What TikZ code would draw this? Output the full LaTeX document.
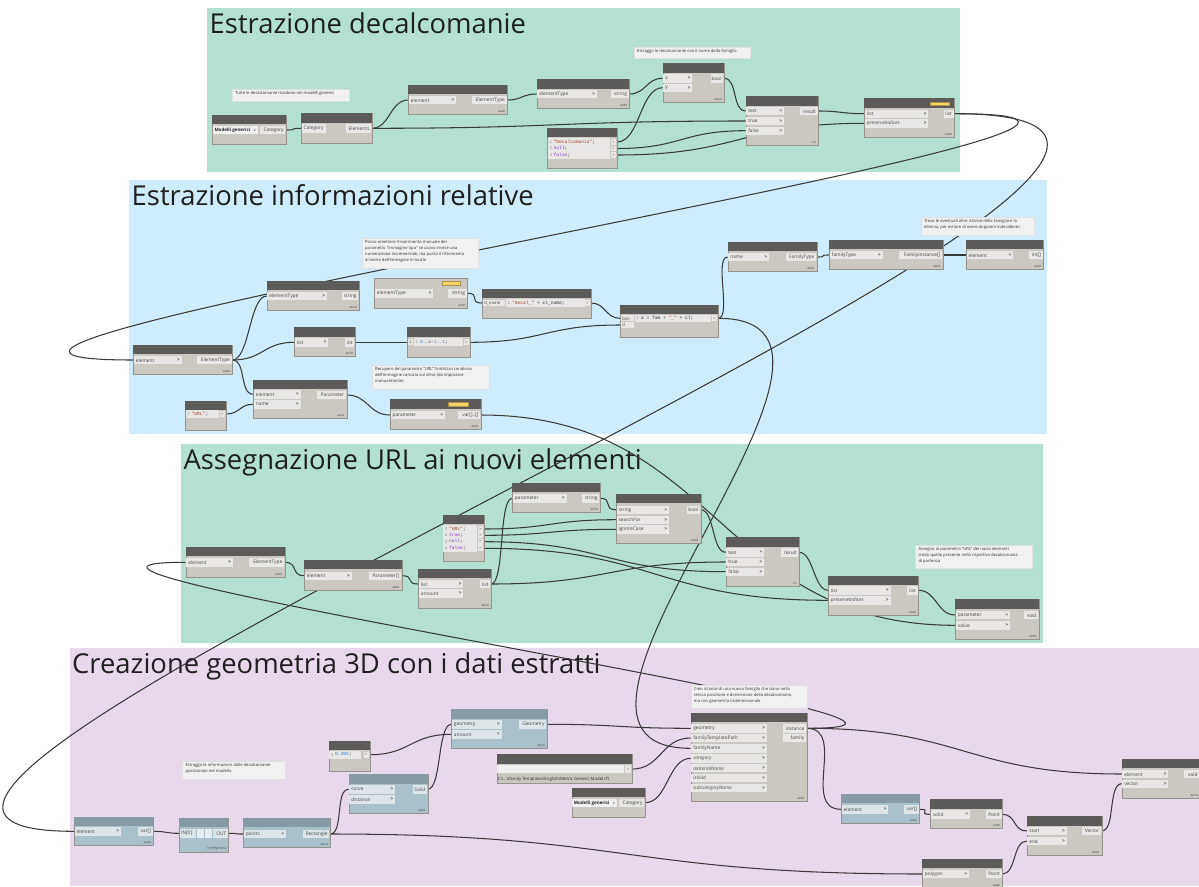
\documentclass[tikz,border=0pt]{standalone}
\usepackage{fontspec}
\setmainfont{Open Sans}
\newfontfamily\codefont{Liberation Mono}
\newfontfamily\symfont{DejaVu Sans}
\usetikzlibrary{calc}
\pgfdeclarelayer{groups}
\pgfdeclarelayer{wires}
\pgfsetlayers{groups,wires,main}

\definecolor{grpgreen}{RGB}{180,224,210}
\definecolor{grpblue}{RGB}{207,236,252}
\definecolor{grppurple}{RGB}{232,216,236}
\definecolor{nhead}{RGB}{93,91,89}
\definecolor{nbody}{RGB}{203,199,193}
\definecolor{nrow}{RGB}{232,231,229}
\definecolor{bhead}{RGB}{135,155,165}
\definecolor{bbody}{RGB}{170,192,202}
\definecolor{brow}{RGB}{221,229,233}
\definecolor{wirec}{RGB}{58,58,58}
\definecolor{notebg}{RGB}{241,241,241}
\definecolor{badge}{RGB}{247,212,106}
\definecolor{cstr}{RGB}{163,72,40}
\definecolor{ckey}{RGB}{140,60,200}
\definecolor{cnum}{RGB}{50,130,220}
\definecolor{nborder}{RGB}{150,146,140}

\tikzset{
  gtitle/.style={anchor=base west,inner sep=0pt,font=\fontsize{27.4}{28}\selectfont,text=black!88},
  nbox/.style={draw=nborder,line width=0.4pt,fill=nbody,anchor=north west,inner sep=0pt,outer sep=0pt},
  plabel/.style={inner sep=0pt,font=\fontsize{4.8}{5}\selectfont,text=black!72},
  lacetext/.style={inner sep=0pt,font=\fontsize{3.4}{4}\selectfont,text=black!70},
  codetext/.style={inner sep=0pt,anchor=west,font=\codefont\fontsize{4.6}{5}\selectfont,text=black!80},
  lnum/.style={inner sep=0pt,anchor=west,font=\codefont\fontsize{4.2}{5}\selectfont,text=black!45},
  notebox/.style={fill=notebg,draw=black!12,line width=0.4pt,anchor=north west,inner sep=0pt,outer sep=0pt},
  notetext/.style={inner sep=0pt,anchor=north west,align=left,font=\fontsize{4.15}{5.8}\selectfont,text=black!80},
  wire/.style={draw=wirec,line width=1.05pt},
  badgebox/.style={fill=badge,draw=badge!70!black,line width=0.3pt},
  dropbox/.style={fill=white!94!black},
}

% node body and header
\newcommand\dnode[6][]{\node[nbox,#1,minimum width={#5-#3},minimum height={#6-#4}] (#2) at (#3,#4) {};}
\newcommand\dhead[3][nhead]{\fill[#1] (#2.north west) rectangle ($(#2.north east)+(0,#3)$);}
% input port with chevron
\newcommand\inp[6][nrow]{%
  \coordinate (#2-#3) at ($(#2.north west)+(0,#4)$);
  \fill[#1] ($(#2-#3)+(0.7,-4.2)$) rectangle ($(#2-#3)+(#5,4.2)$);
  \node[plabel,anchor=west] at ($(#2-#3)+(2.4,0.2)$) {#6};
  \node[plabel,anchor=east,font=\fontsize{4.6}{5}\bfseries] at ($(#2-#3)+(#5-1.6,0.2)$) {>};}
% input port without chevron
\newcommand\inpn[6][nrow]{%
  \coordinate (#2-#3) at ($(#2.north west)+(0,#4)$);
  \fill[#1] ($(#2-#3)+(0.7,-4.2)$) rectangle ($(#2-#3)+(#5,4.2)$);
  \node[plabel,anchor=west] at ($(#2-#3)+(2.4,0.2)$) {#6};}
% output port
\newcommand\outp[6][nrow]{%
  \coordinate (#2-#3) at ($(#2.north east)+(0,#4)$);
  \fill[#1] ($(#2-#3)+(-#5,-4.2)$) rectangle ($(#2-#3)+(-0.7,4.2)$);
  \node[plabel,anchor=east] at ($(#2-#3)+(-2.2,0.2)$) {#6};}
% lacing mark
\newcommand\lace[2][auto]{\node[lacetext,anchor=south east] at ($(#2.south east)+(-2,-1.2)$) {#1};}
% code block output
\newcommand\cbo[3]{%
  \coordinate (#1-#2) at ($(#1.north east)+(0,#3)$);
  \fill[nrow] ($(#1-#2)+(-6.2,-2.9)$) rectangle ($(#1-#2)+(-0.8,2.9)$);
  \node[plabel,font=\fontsize{3.8}{4}\selectfont] at ($(#1-#2)+(-3.5,0.1)$) {>};}
% code block input
\newcommand\cbi[5]{% node, id, dy, width, label
  \coordinate (#1-#2) at ($(#1.north west)+(0,#3)$);
  \fill[nrow] ($(#1-#2)+(0.7,-3)$) rectangle ($(#1-#2)+(#4,3)$);
  \node[plabel,anchor=west,font=\fontsize{4.2}{5}\selectfont] at ($(#1-#2)+(1.8,0.2)$) {#5};}
\newcommand\badgeat[4]{\fill[badgebox] (#1,#2) rectangle (#3,#4);}
% comment note
\newcommand\note[6]{%
  \node[notebox,minimum width={#4-#2},minimum height={#5-#3}] (#1) at (#2,#3) {};
  \node[notetext] at ($(#1.north west)+(3,2.4)$) {#6};}
% connector between two ports
\newcommand\wire[3][]{%
  \ifx&#1&%
    \draw[wire] let \p1=(#2), \p2=(#3), \n1={max(14,abs(\x2-\x1)*0.5)} in
      (\p1) .. controls +(\n1,0) and +(-\n1,0) .. (\p2);
  \else
    \draw[wire] (#2) .. controls +(#1,0) and +(-#1,0) .. (#3);
  \fi}

\begin{document}
\begin{tikzpicture}[x=1pt,y=-1pt]
\useasboundingbox (0,0) rectangle (1199,886);

\begin{pgfonlayer}{groups}
  \fill[white] (0,0) rectangle (1199,886);
  \fill[grpgreen] (207,8) rectangle (960,171.7);
  \fill[grpblue] (129,180) rectangle (1047,434);
  \fill[grpgreen] (181,444) rectangle (1043,642.5);
  \fill[grppurple] (69.5,648.3) rectangle (1199,886);
  \node[gtitle] (T1) at (209.5,33.3) {Estrazione decalcomanie};
  \node[gtitle] (T2) at (131.5,205.3) {Estrazione informazioni relative};
  \node[gtitle] (T3) at (183.3,469.3) {Assegnazione URL ai nuovi elementi};
  \node[gtitle] (T4) at (72,673) {Creazione geometria 3D con i dati estratti};
\end{pgfonlayer}

% ================= Estrazione decalcomanie =================
\dnode{A1}{212}{115}{286}{144}\dhead{A1}{9}
\fill[dropbox] (213,126) rectangle (257.5,134.2);
\node[plabel,anchor=west,font=\fontsize{4.5}{5}\bfseries,text=black!85] at (214.3,130.3) {Modelli generici};
\node[plabel,anchor=east,font=\symfont\fontsize{3.8}{5}\selectfont] at (256.3,130.3) {∨};
\outp{A1}{o1}{15}{26}{Category}

\dnode{A2}{301}{112.7}{371.7}{142.7}\dhead{A2}{10}
\inpn{A2}{i1}{15.6}{25}{Category}
\outp{A2}{o1}{15.6}{26}{Elements}

\dnode{A3}{408.3}{84.7}{507.3}{114}\dhead{A3}{9.6}
\inp{A3}{i1}{15.3}{47.7}{element}
\outp{A3}{o1}{15.3}{35}{ElementType}\lace{A3}

\dnode{A4}{536.7}{79.3}{629.3}{108.3}\dhead{A4}{9.4}
\inp{A4}{i1}{14.7}{60}{elementType}
\outp{A4}{o1}{14.7}{18.7}{string}\lace{A4}

\dnode{A5}{547}{128}{617}{167.7}\dhead{A5}{9}
\fill[nrow] (547.7,138) rectangle (610,159.3);
\node[lnum] at (549.3,142) {1};\node[codetext] at (553.5,142) {\textcolor{cstr}{"Decalcomania"};};
\node[lnum] at (549.3,148.5) {2};\node[codetext] at (553.5,148.5) {\textcolor{ckey}{null};};
\node[lnum] at (549.3,155) {3};\node[codetext] at (553.5,155) {\textcolor{ckey}{false};};
\cbo{A5}{o1}{14}\cbo{A5}{o2}{20.5}\cbo{A5}{o3}{27}

\dnode{A6}{662.7}{63.3}{724}{101.7}\dhead{A6}{9.4}
\inp{A6}{i1}{15}{29.7}{x}
\inp{A6}{i2}{24.4}{29.7}{y}
\outp{A6}{o1}{15}{13.3}{bool}\lace{A6}

\dnode{A7}{745.7}{96}{818.3}{145}\dhead{A7}{10}
\inp{A7}{i1}{15}{38.3}{test}
\inp{A7}{i2}{25}{38.3}{true}
\inp{A7}{i3}{34.7}{38.3}{false}
\outp{A7}{o1}{15}{18.3}{result}\lace[cn]{A7}

\dnode{A8}{864.3}{98.3}{954.3}{137.3}\dhead{A8}{9.4}
\badgeat{930}{101.7}{949}{105.3}
\inp{A8}{i1}{15.4}{64}{list}
\inp{A8}{i2}{25}{64}{\itshape preserveIndices}
\outp{A8}{o1}{15.4}{10}{list}\lace{A8}

\note{N1a}{232}{89}{349}{101.5}{Tutte le decalcomanie ricadono nei modelli generici}
\note{N1b}{634}{47}{750}{58.5}{Estraggo le decalcomanie con il nome della famiglia}

% ================= Estrazione informazioni relative =================
\dnode{B1}{133.3}{345}{232.3}{374.3}\dhead{B1}{9}
\inp{B1}{i1}{15}{48.3}{element}
\outp{B1}{o1}{15}{35}{ElementType}\lace{B1}

\dnode{B2}{266.7}{280.7}{359}{310}\dhead{B2}{9.3}
\inp{B2}{i1}{15.3}{60}{elementType}
\outp{B2}{o1}{15.3}{17.3}{string}\lace{B2}

\dnode{B3}{294.3}{327.3}{355}{356}\dhead{B3}{9.4}
\inp{B3}{i1}{15}{34}{list}
\outp{B3}{o1}{15}{10}{int}\lace{B3}

\dnode{B4}{407.3}{327.3}{469.7}{356.7}\dhead{B4}{9.7}
\cbi{B4}{i1}{15}{6}{x}
\fill[nrow] (414.3,338.3) rectangle (462.5,346.3);
\node[lnum] at (415.5,342.3) {1};
\node[codetext] at (420,342.3) {\textcolor{cnum}{0}..x-\textcolor{cnum}{1}..\textcolor{cnum}{1};};
\cbo{B4}{o1}{15}

\dnode{B5}{253.3}{380}{346.7}{418.3}\dhead{B5}{9.3}
\inp{B5}{i1}{14.3}{47.3}{element}
\inp{B5}{i2}{24.3}{47.3}{name}
\outp{B5}{o1}{15}{30}{Parameter}\lace{B5}

\dnode{B6}{185}{401}{226}{430}\dhead{B6}{9}
\fill[nrow] (185.7,410.2) rectangle (219.2,417.8);
\node[lnum] at (187,414) {1};\node[codetext] at (191.5,414) {\textcolor{cstr}{"URL"};};
\cbo{B6}{o1}{13}

\dnode{B7}{390}{399.3}{480.7}{429}\dhead{B7}{10}
\badgeat{448}{402.5}{468}{406.5}
\inp{B7}{i1}{15.7}{55}{parameter}
\outp{B7}{o1}{15.7}{22.3}{var[]..[]}\lace{B7}

\dnode{B8}{374.3}{278.3}{467.3}{307.7}
\badgeat{441.7}{281.5}{460}{285.5}
\inp{B8}{i1}{15}{59}{elementType}
\outp{B8}{o1}{15}{19}{string}\lace{B8}

\dnode{B9}{482}{289}{591}{318}\dhead{B9}{9}
\cbi{B9}{i1}{14}{23}{cl\_name}
\fill[nrow] (506.3,299.3) rectangle (584.5,306.9);
\node[lnum] at (507.5,303) {1};
\node[codetext] at (512,303) {\textcolor{cstr}{"Decal\_"} + cl\_name;};
\cbo{B9}{o1}{14}

\dnode{B10}{620}{305}{718}{337}\dhead{B10}{9}
\cbi{B10}{i1}{13.3}{14}{fam}
\cbi{B10}{i2}{20}{14}{cl}
\fill[nrow] (635,314.6) rectangle (711,321.9);
\node[lnum] at (636.3,318.3) {1};
\node[codetext] at (640.8,318.3) {a = fam + \textcolor{cstr}{"\_"} + cl;};
\cbo{B10}{o1}{13.3}

\dnode{B11}{727.7}{241.7}{816.7}{271}\dhead{B11}{9.3}
\inp{B11}{i1}{15.3}{41.3}{name}
\outp{B11}{o1}{15.3}{31}{FamilyType}\lace{B11}

\dnode{B12}{829.3}{239.7}{942.7}{269}\dhead{B12}{9.6}
\inp{B12}{i1}{15.3}{53.3}{familyType}
\outp{B12}{o1}{15.3}{44}{FamilyInstance[]}\lace{B12}

\dnode{B13}{966}{239.7}{1043.3}{269}\dhead{B13}{9.6}
\inp{B13}{i1}{15.3}{47.3}{element}
\outp{B13}{o1}{15.3}{14.3}{int[]}\lace{B13}

% ================= Assegnazione URL =================
\dnode{C1}{185.7}{546.7}{284.7}{576.7}\dhead{C1}{9.3}
\inp{C1}{i1}{15.6}{47}{element}
\outp{C1}{o1}{15.6}{35.7}{ElementType}\lace{C1}

\dnode{C2}{304.3}{560}{401.7}{590}\dhead{C2}{9.3}
\inp{C2}{i1}{15.7}{47.3}{element}
\outp{C2}{o1}{15.7}{32.7}{Parameter[]}\lace{C2}

\dnode{C3}{418.3}{569}{491}{607.7}\dhead{C3}{9.3}
\inp{C3}{i1}{15}{45}{list}
\inp{C3}{i2}{24.3}{45}{amount}
\outp{C3}{o1}{15}{11}{list}\lace{C3}

\dnode{C4}{442.7}{515}{484}{561}\dhead{C4}{9}
\fill[nrow] (443.4,524.6) rectangle (476.6,552);
\node[lnum] at (444.6,529) {1};\node[codetext] at (449,529) {\textcolor{cstr}{"URL"};};
\node[lnum] at (444.6,535.3) {2};\node[codetext] at (449,535.3) {\textcolor{ckey}{true};};
\node[lnum] at (444.6,541.7) {3};\node[codetext] at (449,541.7) {\textcolor{ckey}{null};};
\node[lnum] at (444.6,548.3) {4};\node[codetext] at (449,548.3) {\textcolor{ckey}{false};};
\cbo{C4}{o1}{14}\cbo{C4}{o2}{20.3}\cbo{C4}{o3}{26.7}\cbo{C4}{o4}{33.3}

\dnode{C5}{512.3}{483.3}{600}{511.7}\dhead{C5}{9}
\inp{C5}{i1}{15}{54.3}{parameter}
\outp{C5}{o1}{15}{18.3}{string}\lace{C5}

\dnode{C6}{616}{494}{700.7}{542.7}\dhead{C6}{9.3}
\inp{C6}{i1}{15.7}{53}{string}
\inp{C6}{i2}{25.7}{53}{searchFor}
\inp{C6}{i3}{35.3}{53}{ignoreCase}
\outp{C6}{o1}{15.7}{13.3}{bool}\lace{C6}

\dnode{C7}{725.7}{536.7}{799}{585.7}\dhead{C7}{10}
\inp{C7}{i1}{15.6}{38.3}{test}
\inp{C7}{i2}{25.3}{38.3}{true}
\inp{C7}{i3}{35}{38.3}{false}
\outp{C7}{o1}{15.6}{18.3}{result}\lace[cn]{C7}

\dnode{C8}{828.3}{575.7}{918.3}{615}\dhead{C8}{9.6}
\inp{C8}{i1}{14.6}{62.3}{list}
\inp{C8}{i2}{24.6}{62.3}{\itshape preserveIndices}
\outp{C8}{o1}{14.6}{11}{list}\lace{C8}

\dnode{C9}{955.3}{599.3}{1038.7}{639.3}\dhead{C9}{9.7}
\inp{C9}{i1}{15.7}{54.7}{parameter}
\inp{C9}{i2}{26}{54.7}{value}
\outp{C9}{o1}{15.7}{15}{void}\lace{C9}

% ================= Creazione geometria 3D =================
\dnode[fill=bbody]{D1}{74}{816.7}{153.3}{845}\dhead[bhead]{D1}{9}
\inp[brow]{D1}{i1}{14.6}{46.7}{element}
\outp[brow]{D1}{o1}{14.6}{15.3}{var[]}\lace{D1}

\dnode[fill=bbody]{D2}{179}{818.3}{228.3}{852.3}\dhead[bhead]{D2}{9}
\coordinate (D2-i1) at ($(D2.north west)+(0,15)$);
\coordinate (D2-o1) at ($(D2.north east)+(0,15)$);
\fill[brow] (179.7,829) rectangle (195.5,837.5);
\fill[brow!70!white] (196.7,829) rectangle (204,837.5);
\fill[brow!70!white] (205,829) rectangle (212.3,837.5);
\fill[brow] (213.3,829) rectangle (227.6,837.5);
\node[plabel,anchor=west] at (181,833.5) {IN[0]};
\node[plabel,anchor=east] at (226.5,833.5) {OUT};
\node[lacetext,anchor=south east] at (227,851) {IronPython2};

\dnode[fill=bbody]{D3}{243.3}{818.3}{330}{847.3}\dhead[bhead]{D3}{9}
\inp[brow]{D3}{i1}{15.7}{42.7}{points}
\outp[brow]{D3}{o1}{15.7}{27}{Rectangle}\lace{D3}

\dnode{D4}{328.7}{741}{369.7}{770.7}\dhead{D4}{9}
\fill[nrow] (329.4,751) rectangle (361,758.5);
\node[lnum] at (330.6,754.7) {1};\node[codetext] at (335,754.7) {\textcolor{cnum}{0.305};};
\cbo{D4}{o1}{13.7}

\dnode[fill=bbody]{D5}{348.7}{774.3}{427.7}{813.3}\dhead[bhead]{D5}{9.4}
\inp[brow]{D5}{i1}{15}{46.3}{curve}
\inp[brow]{D5}{i2}{25}{46.3}{distance}
\outp[brow]{D5}{o1}{15}{15}{Solid}\lace{D5}

\dnode[fill=bbody]{D6}{451.3}{709.3}{547}{748.3}\dhead[bhead]{D6}{9.4}
\inp[brow]{D6}{i1}{15}{50.3}{geometry}
\inp[brow]{D6}{i2}{25}{50.3}{amount}
\outp[brow]{D6}{o1}{15}{28.3}{Geometry}\lace{D6}

\dnode{D7}{496.7}{754.3}{631.7}{783.3}\dhead{D7}{9.7}
\fill[dropbox] (497.4,765) rectangle (624,773.3);
\coordinate (D7-o1) at ($(D7.north east)+(0,14.8)$);
\fill[nrow] (625,765) rectangle (631,773.3);
\node[plabel,font=\fontsize{3.8}{4}\selectfont] at (628,769.3) {>};
\node[plabel,anchor=west,font=\fontsize{4.3}{5}\selectfont,text=black!85] at (497.6,779.2) {C:\textbackslash...\textbackslash Family Templates\textbackslash English\textbackslash Metric Generic Model.rft};

\dnode{D8}{571.7}{787.7}{645}{816.7}\dhead{D8}{9}
\fill[dropbox] (572.4,798.6) rectangle (616.7,806.8);
\node[plabel,anchor=west,font=\fontsize{4.5}{5}\bfseries,text=black!85] at (573.6,802.9) {Modelli generici};
\node[plabel,anchor=east,font=\symfont\fontsize{3.8}{5}\selectfont] at (615.6,802.9) {∨};
\outp{D8}{o1}{15}{26.3}{Category}

\dnode{D9}{690.7}{712.7}{806.7}{801}\dhead{D9}{9.6}
\inp{D9}{i1}{15.6}{76}{geometry}
\inp{D9}{i2}{25.3}{76}{familyTemplatePath}
\inp{D9}{i3}{35.6}{76}{familyName}
\inp{D9}{i4}{45.6}{76}{\itshape category}
\inp{D9}{i5}{55.3}{76}{\itshape materialName}
\inp{D9}{i6}{65}{76}{\itshape isVoid}
\inp{D9}{i7}{75}{76}{\itshape subcategoryName}
\outp{D9}{o1}{15.6}{24}{instance}
\outp{D9}{o2}{25.3}{24}{family}\lace{D9}

\dnode[fill=bbody]{D10}{841}{794}{919.3}{823.3}\dhead[bhead]{D10}{9.3}
\inp[brow]{D10}{i1}{15.3}{47.3}{element}
\outp[brow]{D10}{o1}{15.3}{15.3}{var[]}\lace{D10}

\dnode{D11}{930.3}{799.3}{1002.3}{828.3}\dhead{D11}{9.4}
\inp{D11}{i1}{15}{39.7}{solid}
\outp{D11}{o1}{15}{16.7}{Point}\lace{D11}

\dnode{D12}{1026.7}{816.3}{1101.7}{855}\dhead{D12}{9.4}
\inp{D12}{i1}{14.7}{40}{start}
\inp{D12}{i2}{24.7}{40}{end}
\outp{D12}{o1}{14.7}{19.3}{Vector}\lace{D12}

\dnode{D13}{922.3}{859}{1002.3}{888}\dhead{D13}{9.3}
\inp{D13}{i1}{15}{46.7}{polygon}
\outp{D13}{o1}{15}{16.7}{Point}\lace{D13}

\dnode{D14}{1121.7}{759}{1200}{797.7}\dhead{D14}{9.3}
\inp{D14}{i1}{15}{46.7}{element}
\inp{D14}{i2}{24.7}{46.7}{vector}
\outp{D14}{o1}{15}{16}{void}\lace{D14}

% ================= connectors =================
\begin{pgfonlayer}{wires}
\wire{A1-o1}{A2-i1}
\wire{A2-o1}{A3-i1}
\wire{A2-o1}{A7-i2}
\wire{A3-o1}{A4-i1}
\wire{A4-o1}{A6-i1}
\wire{A5-o1}{A6-i2}
\wire{A5-o2}{A7-i3}
\wire{A5-o3}{A8-i2}
\wire{A6-o1}{A7-i1}
\wire{A7-o1}{A8-i1}
\wire[400]{A8-o1}{B1-i1}
\draw[wire] (A8-o1) .. controls +(520,0) and +(-450,0) .. (D1-i1);
\wire{B1-o1}{B2-i1}
\wire{B1-o1}{B3-i1}
\wire{B1-o1}{B5-i1}
\wire{B3-o1}{B4-i1}
\wire{B4-o1}{B10-i2}
\wire{B8-o1}{B9-i1}
\wire{B9-o1}{B10-i1}
\wire{B10-o1}{B11-i1}
\wire[200]{B10-o1}{D9-i3}
\wire{B11-o1}{B12-i1}
\wire{B12-o1}{B13-i1}
\wire{B6-o1}{B5-i2}
\wire{B5-o1}{B7-i1}
\wire{B7-o1}{C9-i2}
\wire[260]{D9-o1}{C1-i1}
\wire{C1-o1}{C2-i1}
\wire{C2-o1}{C3-i1}
\wire{C3-o1}{C5-i1}
\wire{C3-o1}{C7-i2}
\wire{C4-o1}{C6-i2}
\wire{C4-o2}{C6-i3}
\wire{C4-o3}{C7-i3}
\wire{C4-o4}{C8-i2}
\wire{C5-o1}{C6-i1}
\wire{C6-o1}{C7-i1}
\wire{C7-o1}{C8-i1}
\wire{C8-o1}{C9-i1}
\wire{D1-o1}{D2-i1}
\wire{D2-o1}{D3-i1}
\wire{D3-o1}{D5-i1}
\wire{D3-o1}{D13-i1}
\wire{D4-o1}{D6-i2}
\wire{D5-o1}{D6-i1}
\wire{D6-o1}{D9-i1}
\wire{D7-o1}{D9-i2}
\wire{D8-o1}{D9-i4}
\wire[40]{D9-o1}{D10-i1}
\wire{D9-o1}{D14-i1}
\wire{D10-o1}{D11-i1}
\wire{D11-o1}{D12-i1}
\wire{D13-o1}{D12-i2}
\wire{D12-o1}{D14-i2}
\end{pgfonlayer}

% ================= notes =================
\note{N2a}{362}{238}{478}{268}{Posso omettere l'inserimento manuale del\\parametro "Immagine tipo" se usavo invece una\\numerazione incrementale, ma punto il riferimento\\al nome dell'immagine in locale}
\note{N2b}{372}{365}{489}{389}{Recupero del parametro "URL" l'indirizzo condiviso\\dell'immagine caricata sul drive (da impostare\\manualmente)}
\note{N2c}{921}{217}{1034}{235}{Trova le eventuali altre istanze della famiglia e la\\elimina, per evitare di avere doppioni indesiderati}
\note{N3}{915.3}{545}{1031.7}{568.3}{Assegno al parametro "URL" dei nuovi elementi\\creati quello presente nella rispettiva decalcomania\\di partenza}
\note{N4a}{182.3}{761}{285}{779.3}{Estraggo le informazioni dalle decalcomanie\\posizionate nel modello}
\note{N4b}{690.7}{685}{806.7}{708.3}{Creo istanze di una nuova famiglia che siano nella\\stessa posizione e dimensione della decalcomania,\\ma con geometria tridimensionale}
\end{tikzpicture}
\end{document}
